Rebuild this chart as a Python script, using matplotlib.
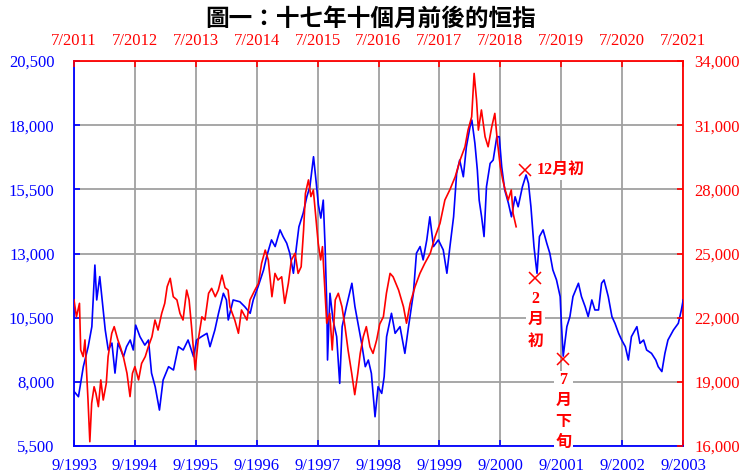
import matplotlib
matplotlib.use("Agg")
import matplotlib.pyplot as plt
import matplotlib.ticker as mticker

plt.rcParams["font.family"] = ["Liberation Serif", "Noto Sans CJK TC"]

# ── 恒指 9/1993 - 9/2003 (bottom / left axis, blue) ──────────────
blue_t = [
    1993.67, 1993.74, 1993.82, 1993.90, 1993.96, 1994.01, 1994.04, 1994.09, 1994.13, 1994.18,
    1994.23, 1994.29, 1994.34, 1994.39, 1994.48, 1994.53, 1994.59, 1994.64, 1994.68, 1994.75,
    1994.83, 1994.89, 1994.94, 1995.00, 1995.07, 1995.13, 1995.22, 1995.30, 1995.38, 1995.46,
    1995.54, 1995.63, 1995.68, 1995.76, 1995.85, 1995.90, 1995.98, 1996.04, 1996.12, 1996.17,
    1996.20, 1996.28, 1996.39, 1996.47, 1996.56, 1996.61, 1996.69, 1996.78, 1996.83, 1996.91,
    1996.97, 1997.05, 1997.10, 1997.16, 1997.21, 1997.27, 1997.32, 1997.36, 1997.43, 1997.49,
    1997.54, 1997.60, 1997.64, 1997.68, 1997.72, 1997.76, 1997.79, 1997.82, 1997.83, 1997.87,
    1997.92, 1997.98, 1998.03, 1998.07, 1998.14, 1998.23, 1998.28, 1998.34, 1998.39, 1998.45,
    1998.50, 1998.55, 1998.61, 1998.66, 1998.72, 1998.76, 1998.80, 1998.88, 1998.94, 1999.02,
    1999.10, 1999.16, 1999.24, 1999.29, 1999.35, 1999.40, 1999.46, 1999.51, 1999.57, 1999.65,
    1999.73, 1999.79, 1999.84, 1999.90, 1999.95, 2000.00, 2000.06, 2000.11, 2000.17, 2000.20,
    2000.25, 2000.29, 2000.32, 2000.36, 2000.40, 2000.44, 2000.50, 2000.55, 2000.61, 2000.65,
    2000.69, 2000.74, 2000.80, 2000.85, 2000.91, 2000.96, 2001.03, 2001.09, 2001.13, 2001.17,
    2001.20, 2001.22, 2001.25, 2001.27, 2001.31, 2001.37, 2001.43, 2001.48, 2001.53, 2001.59,
    2001.65, 2001.67, 2001.70, 2001.76, 2001.81, 2001.86, 2001.95, 2002.00, 2002.06, 2002.11,
    2002.17, 2002.22, 2002.28, 2002.33, 2002.37, 2002.44, 2002.50, 2002.55, 2002.61, 2002.66,
    2002.72, 2002.77, 2002.82, 2002.91, 2002.96, 2003.02, 2003.07, 2003.15, 2003.22, 2003.26,
    2003.32, 2003.37, 2003.42, 2003.51, 2003.59, 2003.64, 2003.67,
]
blue_hsi = [
    7620, 7420, 8590, 9370, 10150, 12550, 11190, 12100, 11190, 10020,
    9240, 9510, 8340, 9510, 8980, 9370, 9630, 9240, 10210, 9760,
    9430, 9630, 8340, 7810, 6900, 8070, 8590, 8460, 9370, 9240,
    9630, 8980, 9630, 9760, 9890, 9370, 10020, 10670, 11450, 11190,
    10410, 11190, 11120, 10930, 10670, 11190, 11710, 12360, 12880, 13530,
    13270, 13920, 13660, 13400, 13010, 12230, 13270, 14040, 14570, 15210,
    15600, 16770, 15860, 14900, 14380, 15080, 13270, 10800, 8850, 11450,
    10410, 9760, 7940, 10150, 10930, 11840, 10930, 10150, 9500, 8590,
    8850, 8330, 6640, 7810, 7550, 8200, 9760, 10670, 9890, 10150,
    9110, 10150, 11450, 13010, 13270, 12750, 13530, 14430, 13270, 13530,
    13140, 12230, 13270, 14430, 16120, 16640, 15990, 17160, 17940, 18200,
    17290, 16250, 15080, 14430, 13660, 15600, 16510, 16640, 17550, 17550,
    16380, 15470, 14960, 14430, 15210, 14820, 15600, 16060, 15730, 14820,
    13920, 13270, 12620, 12230, 13660, 13920, 13400, 13010, 12360, 11970,
    11320, 10280, 9000, 10150, 10540, 11320, 11840, 11320, 10930, 10540,
    11190, 10800, 10800, 11840, 11970, 11320, 10540, 10280, 9890, 9630,
    9370, 8850, 9760, 10150, 9500, 9630, 9240, 9110, 8850, 8590,
    8400, 9110, 9630, 10020, 10280, 10800, 11190,
]

# ── 恒指 7/2011 - 10/2018 (top / right axis, red) ───────────────
red_t = [
    2011.50, 2011.54, 2011.59, 2011.61, 2011.65, 2011.68, 2011.73, 2011.76, 2011.79, 2011.83,
    2011.86, 2011.90, 2011.94, 2011.98, 2012.03, 2012.06, 2012.12, 2012.16, 2012.22, 2012.26,
    2012.31, 2012.37, 2012.42, 2012.46, 2012.50, 2012.56, 2012.61, 2012.67, 2012.72, 2012.78,
    2012.83, 2012.88, 2012.94, 2012.99, 2013.03, 2013.08, 2013.13, 2013.19, 2013.24, 2013.29,
    2013.35, 2013.39, 2013.43, 2013.49, 2013.54, 2013.60, 2013.65, 2013.71, 2013.76, 2013.82,
    2013.87, 2013.93, 2013.98, 2014.03, 2014.06, 2014.14, 2014.20, 2014.25, 2014.34, 2014.39,
    2014.47, 2014.53, 2014.58, 2014.64, 2014.69, 2014.75, 2014.80, 2014.85, 2014.91, 2014.96,
    2015.02, 2015.07, 2015.13, 2015.18, 2015.23, 2015.27, 2015.30, 2015.35, 2015.39, 2015.43,
    2015.47, 2015.51, 2015.55, 2015.58, 2015.61, 2015.65, 2015.70, 2015.74, 2015.79, 2015.84,
    2015.90, 2015.95, 2016.00, 2016.06, 2016.11, 2016.16, 2016.20, 2016.25, 2016.30, 2016.36,
    2016.41, 2016.47, 2016.52, 2016.58, 2016.63, 2016.69, 2016.74, 2016.83, 2016.91, 2016.96,
    2017.02, 2017.10, 2017.18, 2017.26, 2017.35, 2017.43, 2017.51, 2017.59, 2017.67, 2017.76,
    2017.84, 2017.92, 2017.97, 2018.03, 2018.07, 2018.11, 2018.14, 2018.19, 2018.25, 2018.30,
    2018.36, 2018.41, 2018.45, 2018.50, 2018.54, 2018.58, 2018.63, 2018.68, 2018.71, 2018.76,
]
red_hsi = [
    22830, 22040, 22670, 20490, 20180, 20960, 18150, 16200, 18000, 18770,
    18460, 17840, 19090, 18150, 18930, 20180, 21270, 21580, 20960, 20640,
    20180, 19400, 18310, 19400, 19710, 19090, 19860, 20180, 20640, 21110,
    21890, 21420, 22200, 22670, 23450, 23840, 22980, 22830, 22200, 21890,
    23290, 22830, 21580, 19560, 20960, 22040, 21890, 23140, 23370, 22980,
    23290, 23990, 23400, 23290, 22510, 21890, 21270, 22360, 21890, 22830,
    23290, 23610, 24540, 25160, 24700, 22980, 24070, 23760, 23910, 22670,
    23610, 24700, 25010, 24070, 24380, 26100, 27810, 28440, 27660, 27970,
    26720, 25480, 24700, 25320, 23760, 21740, 22200, 20490, 22830, 23140,
    22510, 21580, 20490, 19400, 18400, 19400, 20330, 21110, 21580, 20640,
    20330, 20960, 21700, 22040, 23140, 24070, 23910, 23290, 22510, 21740,
    22670, 23450, 24070, 24540, 25010, 25790, 26410, 27500, 27970, 28590,
    29370, 29990, 30770, 31390, 33420, 32180, 30770, 31710, 30460, 29990,
    30930, 31550, 30300, 29060, 28440, 27970, 27500, 27970, 26880, 26250,
]

# ── axes ticks ───────────────────────────────────────────────
blue_ticks = [1993.667 + i for i in range(11)]
blue_tick_labels = [f"9/{1993 + i}" for i in range(11)]
red_ticks = [2011.5 + i for i in range(11)]
red_tick_labels = [f"7/{2011 + i}" for i in range(11)]
left_ticks = [5500, 8000, 10500, 13000, 15500, 18000, 20500]
right_ticks = [16000, 19000, 22000, 25000, 28000, 31000, 34000]

# ── annotations: (date on blue timeline, index level, label) ──
mark_t = [2001.08, 2001.24, 2001.70]
mark_v = [16250, 12030, 8880]
mark_labels = ["12月初", "2\n月\n初", "7\n月\n下\n旬"]

BLUE = "#0000FF"
RED = "#FF0000"
GRID = "#A0A0A0"

fig = plt.figure(figsize=(7.42, 4.74), dpi=100)
rect = [74 / 742, 1 - 446 / 474, 609 / 742, 385 / 474]

ax = fig.add_axes(rect)
ax2 = fig.add_axes(rect, frameon=False)

ax.plot(blue_t, blue_hsi, color=BLUE, lw=1.2, zorder=3)
ax2.plot(red_t, red_hsi, color=RED, lw=1.2, zorder=3)

ax.set_xlim(blue_ticks[0], blue_ticks[-1])
ax.set_ylim(left_ticks[0], left_ticks[-1])
ax2.set_xlim(red_ticks[0], red_ticks[-1])
ax2.set_ylim(right_ticks[0], right_ticks[-1])

ax.set_xticks(blue_ticks)
ax.set_xticklabels(blue_tick_labels)
ax.set_yticks(left_ticks)
ax.yaxis.set_major_formatter(mticker.StrMethodFormatter("{x:,.0f}"))
ax2.set_xticks(red_ticks)
ax2.set_xticklabels(red_tick_labels)
ax2.set_yticks(right_ticks)
ax2.yaxis.set_major_formatter(mticker.StrMethodFormatter("{x:,.0f}"))
ax2.xaxis.set_ticks_position("top")
ax2.yaxis.set_ticks_position("right")

ax.tick_params(axis="x", direction="in", length=4, width=1.2, colors=BLUE,
               labelsize=12, pad=9)
ax.tick_params(axis="y", direction="in", length=4, width=1.2, colors=BLUE,
               labelsize=12, pad=14)
ax2.tick_params(axis="x", direction="in", length=4, width=1.2, colors=RED,
                labelsize=12, pad=9)
ax2.tick_params(axis="y", direction="in", length=4, width=1.2, colors=RED,
                labelsize=12, pad=8)

ax.grid(True, color=GRID, lw=1.3)
ax.set_axisbelow(True)

ax.spines["left"].set_color(BLUE)
ax.spines["bottom"].set_color(BLUE)
ax.spines["top"].set_color(RED)
ax.spines["right"].set_color(RED)
for s in ax.spines.values():
    s.set_linewidth(1.3)

# markers + labels on the blue curve
ax.plot(mark_t, mark_v, "x", color=RED, ms=8, mew=1.1, zorder=6)
ann_font = dict(color=RED, fontsize=11.5, fontweight="bold",
                family=["Liberation Serif", "Noto Sans CJK TC"])
box = dict(facecolor="white", edgecolor="none", pad=1)
ax.annotate(mark_labels[0], (mark_t[0], mark_v[0]), xytext=(11, 0),
            textcoords="offset pixels", ha="left", va="center",
            bbox=box, zorder=7, annotation_clip=False, **ann_font)
for t, v, lab in zip(mark_t[1:], mark_v[1:], mark_labels[1:]):
    ax.annotate(lab, (t, v), xytext=(0, -13), textcoords="offset pixels",
                ha="center", va="top", linespacing=1.42, bbox=box,
                zorder=7, annotation_clip=False, **ann_font)

fig.suptitle("圖一：十七年十個月前後的恒指", y=0.985, fontsize=17,
             fontweight="bold", family=["Noto Sans CJK TC"])

fig.savefig("out.png", dpi=100)
